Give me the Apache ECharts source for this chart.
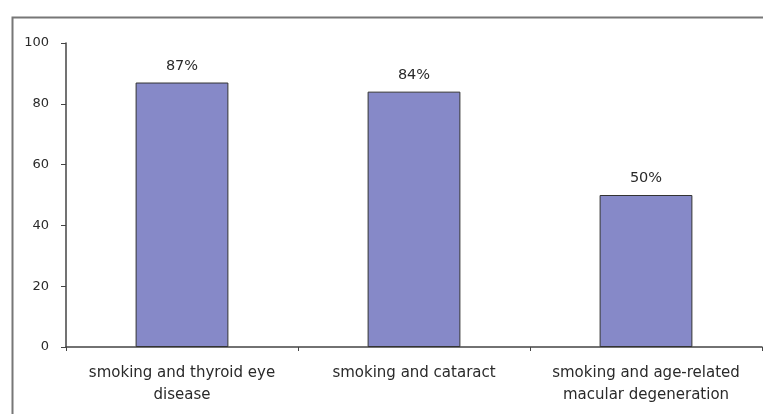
<!DOCTYPE html>
<html><head><meta charset="utf-8">
<script src="https://cdn.jsdelivr.net/npm/echarts@6/dist/echarts.min.js"></script>
<style>html,body{margin:0;padding:0;background:#fff}#c{width:763px;height:414px}</style>
</head><body><div id="c"></div>
<script>
const categories = ['smoking and thyroid eye\ndisease', 'smoking and cataract', 'smoking and age-related\nmacular degeneration'];
const values = [87, 84, 50];
const yTicks = [0, 20, 40, 60, 80, 100];

const FONT = 'DejaVu Sans';
const chart = echarts.init(document.getElementById('c'), null, {renderer: 'canvas'});
chart.setOption({
  animation: false,
  backgroundColor: '#fff',
  graphic: [{
    type: 'rect', left: 10, top: 15, shape: {width: 800, height: 450},
    style: {fill: 'none', stroke: '#777', lineWidth: 2}, silent: true
  }],
  grid: {left: 66, right: 1, top: 43, bottom: 67},
  xAxis: {
    type: 'category', data: categories,
    axisLine: {lineStyle: {color: '#444', width: 1.5}},
    axisTick: {show: true, length: 4, lineStyle: {color: '#444'}},
    axisLabel: {color: '#2a2a2a', fontFamily: FONT, fontSize: 15, lineHeight: 22, margin: 15, interval: 0}
  },
  yAxis: {
    type: 'value', min: yTicks[0], max: yTicks[yTicks.length - 1], interval: 20,
    axisLine: {show: true, lineStyle: {color: '#444', width: 1.5}},
    axisTick: {show: true, length: 5, lineStyle: {color: '#444'}},
    splitLine: {show: false},
    axisLabel: {color: '#2a2a2a', fontFamily: FONT, fontSize: 13, margin: 17}
  },
  series: [{
    type: 'bar', data: values, barWidth: '40%',
    itemStyle: {color: '#8689c8', borderColor: '#333', borderWidth: 1},
    label: {show: true, position: 'top', formatter: '{c}%', color: '#2a2a2a', fontFamily: FONT, fontSize: 14.5, distance: 9}
  }]
});
</script></body></html>
